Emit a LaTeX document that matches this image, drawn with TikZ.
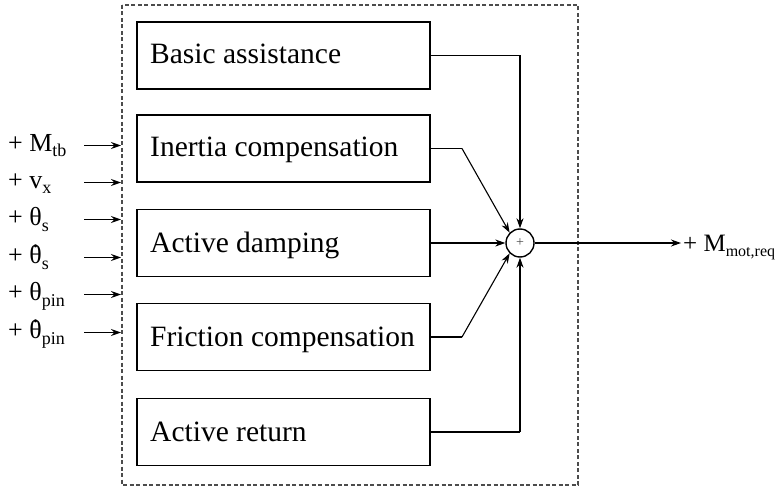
\documentclass[tikz,border=0pt]{standalone}
\usepackage{fontspec}
\setmainfont{Liberation Serif}
\usetikzlibrary{arrows.meta}
\newcommand\dnsub[1]{\raisebox{-5.5pt}{\fontsize{18}{18}\selectfont #1}}
\newcommand\dnsubo[1]{\raisebox{-5.5pt}{\fontsize{16}{16}\selectfont #1}}
\newcommand\thdot{\leavevmode\setbox0\hbox{θ}\rlap{\hbox to \wd0{\hss\raisebox{0.6em}{.}\hss}}θ}
\begin{document}
\begin{tikzpicture}[x=1pt,y=-1pt,
  blk/.style={draw,line width=1.6pt,minimum width=293pt,minimum height=67pt,inner sep=0pt},
  txt/.style={font=\fontsize{29.5}{33}\selectfont,inner sep=0pt,anchor=base west},
  lbl/.style={font=\fontsize{26}{28}\selectfont,inner sep=0pt,anchor=base west},
  con/.style={line width=1.1pt,-{Stealth[length=10pt,width=7pt]}},
  ln/.style={line width=1.1pt}]
\useasboundingbox (0,0) rectangle (778,489);
\draw[line width=1.1pt,black!70,dash pattern=on 4pt off 2.5pt] (122,5) rectangle (578,485);
\node[blk] (b1) at (283.5,55.5) {};
\node[blk] (b2) at (283.5,148.5) {};
\node[blk] (b3) at (283.5,243) {};
\node[blk] (b4) at (283.5,337) {};
\node[blk] (b5) at (283.5,432) {};
\node[txt] (t1) at (150,64) {Basic assistance};
\node[txt] (t2) at (150,157) {Inertia compensation};
\node[txt] (t3) at (150,252) {Active damping};
\node[txt] (t4) at (150,346) {Friction compensation};
\node[txt] (t5) at (150,441) {Active return};
\node[draw,circle,line width=1.4pt,minimum size=28pt,inner sep=0pt,font=\fontsize{14}{14}\selectfont,text=black!70] (s) at (520,243) {+};
\coordinate (c1) at (520,55.5);
\coordinate (c2) at (462,148.5);
\coordinate (c4) at (462,337);
\coordinate (c5) at (520,432);
\draw[ln] (b1.east) -- (c1);
\draw[con] (c1) -- (s.north);
\draw[ln] (b2.east) -- (c2);
\draw[con] (c2) -- (s.north west);
\draw[con] (b3.east) -- (s.west);
\draw[ln] (b4.east) -- (c4);
\draw[con] (c4) -- (s.south west);
\draw[ln] (b5.east) -- (c5);
\draw[con] (c5) -- (s.south);
\coordinate (oe) at (681,243);
\draw[con] (s.east) -- (oe);
\node[lbl,font=\fontsize{25}{28}\selectfont] (out) at (683,251) {+ M\dnsubo{mot,req}};
\foreach \i/\y/\t in {1/145.5/{+ M\dnsub{tb}},2/182.5/{+ v\dnsub{x}},3/219.5/{+ θ\dnsub{s}},4/257.5/{+ \thdot\dnsub{s}},5/294.5/{+ θ\dnsub{pin}},6/332.5/{+ \thdot\dnsub{pin}}}{
  \node[lbl] (in\i) at (8,\y+6) {\t};
  \coordinate (ie\i) at (121,\y);
  \coordinate (is\i) at (84,\y);
  \draw[con] (is\i) -- (ie\i);
}
\end{tikzpicture}
\end{document}
